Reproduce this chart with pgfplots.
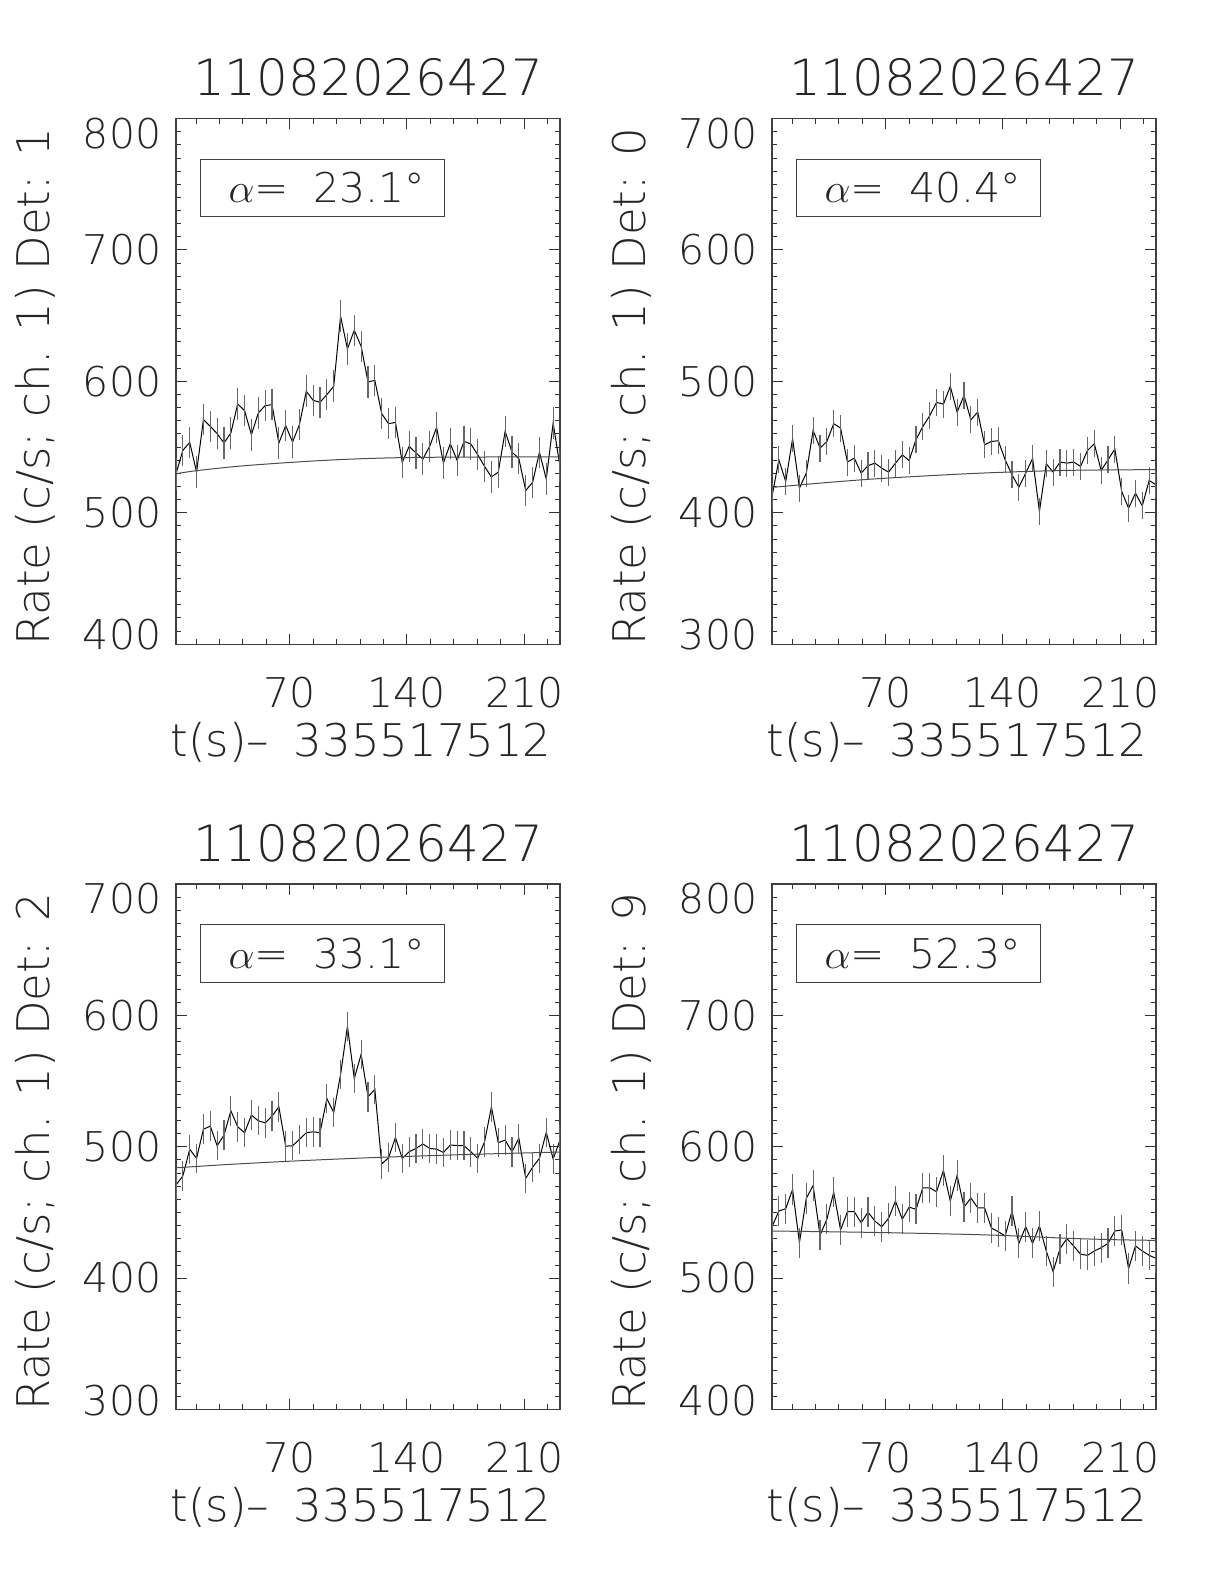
\documentclass[border=0pt]{standalone}
\usepackage{fontspec}
\IfFontExistsTF{DejaVu Sans ExtraLight}{\setmainfont{DejaVu Sans ExtraLight}}{%
 \IfFontExistsTF{Fira Sans ExtraLight}{\setmainfont{Fira Sans ExtraLight}}{%
  \IfFontExistsTF{Fira Sans Light}{\setmainfont{Fira Sans Light}}{%
   \IfFontExistsTF{Lato Light}{\setmainfont{Lato Light}}{\setmainfont{DejaVu Sans}}}}}
\usepackage{pgfplots}
\usepackage{pgfplotstable}
\pgfplotsset{compat=1.18}

\pgfplotstableread{
x a b c d
2.05 529.7 412.4 470.9 539.2
6.14 547.5 440.3 477.8 551.1
10.24 553.6 423.8 498.1 552.9
14.34 531.0 456.3 491.2 567.5
18.43 570.9 418.8 513.4 527.0
22.53 565.8 430.2 515.7 560.7
26.62 560.2 462.7 500.8 570.6
30.72 553.1 449.2 508.9 532.6
34.82 560.7 454.3 527.4 544.8
38.91 582.8 467.8 515.2 565.5
43.01 577.7 464.5 510.7 536.7
47.10 559.4 438.6 524.1 550.6
51.20 576.0 441.6 519.8 550.6
55.30 581.5 430.2 518.2 542.2
59.39 582.3 435.8 523.3 550.3
63.49 553.1 437.8 530.4 543.5
67.58 566.3 434.0 500.5 539.2
71.68 553.9 430.9 500.8 545.5
75.78 567.1 437.8 505.6 558.7
79.87 592.5 444.1 510.7 544.8
83.97 585.6 439.8 511.4 554.1
88.06 584.1 455.6 510.7 552.4
92.16 589.9 465.7 536.7 568.8
96.26 596.3 473.9 526.1 568.8
100.35 649.6 484.0 555.0 565.8
104.45 624.7 482.7 591.7 582.0
108.54 638.9 496.2 551.9 558.7
112.64 626.7 476.6 570.4 578.2
116.74 599.6 489.3 538.0 554.1
120.83 600.8 470.8 543.8 561.0
124.93 575.4 476.6 486.9 553.6
129.02 567.8 451.8 491.7 553.6
133.12 568.8 454.3 507.1 538.2
137.22 538.4 454.8 491.2 535.4
141.31 550.6 440.3 496.2 532.1
145.41 545.5 428.9 498.8 551.1
149.50 540.9 419.5 502.1 526.5
153.60 550.6 430.2 498.8 539.2
157.70 565.0 441.4 498.2 526.5
161.79 537.9 401.0 495.7 539.7
165.89 552.6 437.3 501.3 520.7
169.98 539.9 430.9 501.0 505.0
174.08 554.4 438.6 500.8 522.5
178.18 552.3 437.8 496.2 530.1
182.27 544.2 438.6 491.2 524.5
186.37 535.3 435.3 503.8 518.2
190.46 527.2 447.4 530.4 517.4
194.56 531.0 452.5 503.1 520.7
198.66 562.0 432.2 505.1 523.2
202.75 546.2 440.3 496.2 526.5
206.85 541.2 448.5 506.4 535.9
210.94 517.0 416.2 476.0 536.7
215.04 523.1 403.5 484.4 507.3
219.14 546.0 414.9 491.2 524.5
223.23 525.7 405.3 511.0 520.7
227.33 568.3 424.6 490.7 517.4
231.42 535.3 421.3 505.1 515.1
}\lc

\newcommand{\tfont}{\fontsize{25bp}{30bp}\selectfont}
\newcommand{\lfont}{\fontsize{22.5bp}{27bp}\selectfont}
\newcommand{\kfont}{\fontsize{20.5bp}{24bp}\selectfont}

\pgfplotsset{
  panel/.style={
    scale only axis, width=192bp, height=262.8bp,
    xmin=2.048, xmax=231.424,
    xtick={70,140,210},
    minor xtick={14,28,42,56,84,98,112,126,154,168,182,196,224},
    minor y tick num=9,
    tick align=inside, xtick pos=both, ytick pos=both,
    major tick length=5.3bp, minor tick length=2.6bp,
    every tick/.style={black!80, line width=0.5bp},
    axis line style={black!75, line width=0.6bp},
    tick label style={font=\kfont, text=black!85, /pgf/number format/assume math mode=true},
    xticklabel style={anchor=center, yshift=-24bp, inner sep=0pt},
    yticklabel style={anchor=base east, xshift=-7.2bp, yshift=-7.4bp, inner sep=0pt},
    yticklabel={\ifcase\ticknum\raisebox{4.5bp}{\pgfmathprintnumber{\tick}}\or\pgfmathprintnumber{\tick}\or\pgfmathprintnumber{\tick}\or\pgfmathprintnumber{\tick}\or\raisebox{-7.5bp}{\pgfmathprintnumber{\tick}}\fi},
    title style={at={(axis description cs:0.5,1)}, anchor=center, yshift=14.5bp, font=\tfont, text=black!85, inner sep=0pt},
    ylabel style={at={(axis description cs:-0.3667,0.49)}, anchor=center, font=\lfont, text=black!85, inner sep=0pt},
    xlabel style={at={(axis description cs:0.482,0)}, anchor=center, yshift=-49bp, font=\lfont, text=black!85, inner sep=0pt},
    title={11082026427},
    xlabel={t(s)–\hspace{0.55em}335517512},
  },
  lc/.style={black, line width=0.5bp,
    error bars/.cd, y dir=both, y fixed=#1, error mark=none,
    error bar style={black!60, line width=0.6bp}},
  bg/.style={black!70, line width=0.5bp, smooth},
}

\newcommand{\abox}[1]{\node[draw=black!75, line width=0.5bp, minimum width=122bp, minimum height=28.7bp, inner sep=0pt, anchor=center, font=\kfont, text=black!85, xshift=73bp, yshift=-34.7bp] at (axis description cs:0,1) {\hspace{5bp}$\alpha$=\hspace{0.6em}#1°};}

\begin{document}
\begin{tikzpicture}
\useasboundingbox (0,0) rectangle (612bp,792bp);

% Panel 1 (Det 1)
\begin{axis}[panel, at={(88bp,469.9bp)}, anchor=south west,
  ymin=400, ymax=800, ytick={400,500,600,700,800},
  ylabel={Rate (c/s; ch. 1) Det: 1}]
\addplot[lc=12] table[x=x,y=a]{\lc};
\addplot[bg] coordinates {(2.05,529.7) (14,532) (40,535.5) (70,538.3) (100,540.5) (130,541.8) (160,542.3) (200,542.5) (231.42,542.5)};
\abox{23.1}
\end{axis}

% Panel 2 (Det 0)
\begin{axis}[panel, at={(386bp,469.9bp)}, anchor=south west,
  ymin=300, ymax=700, ytick={300,400,500,600,700},
  ylabel={Rate (c/s; ch. 1) Det: 0}]
\addplot[lc=10.3] table[x=x,y=b]{\lc};
\addplot[bg] coordinates {(2.05,419.3) (30,422.5) (60,425.5) (90,427.8) (120,429.8) (150,431.3) (180,432.3) (210,432.7) (231.42,432.8)};
\abox{40.4}
\end{axis}

% Panel 3 (Det 2)
\begin{axis}[panel, at={(88bp,87.2bp)}, anchor=south west,
  ymin=300, ymax=700, ytick={300,400,500,600,700},
  ylabel={Rate (c/s; ch. 1) Det: 2}]
\addplot[lc=11.2] table[x=x,y=c]{\lc};
\addplot[bg] coordinates {(2.05,484) (30,486.3) (60,488.4) (90,490.2) (120,491.8) (150,493.1) (180,494.3) (210,495.3) (231.42,496)};
\abox{33.1}
\end{axis}

% Panel 4 (Det 9)
\begin{axis}[panel, at={(386bp,87.2bp)}, anchor=south west,
  ymin=400, ymax=800, ytick={400,500,600,700,800},
  ylabel={Rate (c/s; ch. 1) Det: 9}]
\addplot[lc=11.5] table[x=x,y=d]{\lc};
\addplot[bg] coordinates {(2.05,535.9) (60,534.9) (120,533.3) (150,532) (180,530.3) (210,529.2) (231.42,528.8)};
\abox{52.3}
\end{axis}
\end{tikzpicture}
\end{document}
